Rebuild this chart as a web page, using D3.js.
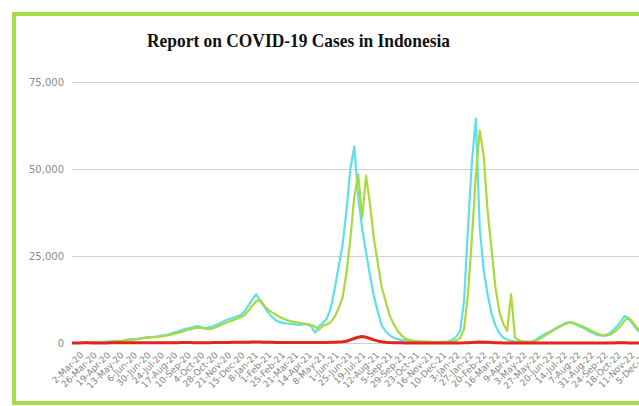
<!DOCTYPE html>
<html>
<head>
<meta charset="utf-8">
<script src="https://cdn.jsdelivr.net/npm/d3@7"></script>
<style>
  body { margin: 0; background: #fff; }
  svg { display: block; }
</style>
</head>
<body>
<svg id="chart" width="639" height="406"></svg>
<script>
// weekly readings starting 2-Mar-20
const startDate = "2-Mar-20";

const newCases = [
  0, 10, 50, 120, 150, 250, 320, 330, 350, 400,
  480, 600, 650, 700, 900, 1100, 1050, 1300, 1500, 1600,
  1700, 1800, 1900, 2200, 2300, 2600, 3000, 3300, 3700, 4100,
  4300, 4600, 4900, 4500, 4200, 4500, 4800, 5300, 5800, 6400,
  6800, 7200, 7600, 8000, 9000, 10800, 12500, 14000, 12000, 10500,
  8800, 7500, 6500, 6000, 5700, 5600, 5500, 5300, 5200, 5400,
  5300, 4800, 3000, 4800, 5800, 7000, 10000, 15500, 22000, 28000,
  38000, 50000, 56500, 42000, 33000, 26000, 19500, 13500, 9000, 5000,
  3400, 2200, 1600, 1100, 900, 700, 600, 500, 450, 400,
  350, 300, 250, 250, 300, 350, 500, 900, 1800, 3500,
  12000, 33000, 52000, 64500, 33000, 21000, 14000, 8500, 5000, 2800,
  1600, 1000, 600, 400, 300, 300, 320, 400, 700, 1500,
  2200, 2800, 3300, 4000, 4700, 5200, 5800, 6000, 5500, 5000,
  4600, 4000, 3300, 2800, 2300, 2100, 2200, 2700, 3600, 4800,
  6200, 7800, 7000, 5500, 4000, 3000, 2200, 1500
];

const recovered = [
  0, 0, 5, 20, 50, 100, 150, 200, 250, 300,
  380, 450, 550, 600, 750, 900, 1000, 1100, 1300, 1500,
  1600, 1700, 1800, 1900, 2100, 2300, 2600, 2900, 3200, 3600,
  3900, 4200, 4400, 4300, 4100, 4000, 4200, 4700, 5200, 5700,
  6100, 6500, 7000, 7400, 8000, 9300, 10800, 12000, 12400, 10800,
  9600, 8800, 8200, 7500, 7000, 6500, 6200, 6000, 5800, 5600,
  5400, 5200, 4700, 3800, 5000, 5300, 6000, 7500, 10000, 13000,
  20000, 30000, 42000, 48500, 36000, 48000, 40000, 30000, 23000, 16000,
  12000, 8000, 5500, 3500, 2200, 1300, 900, 700, 550, 450,
  400, 350, 300, 250, 250, 250, 300, 400, 700, 1500,
  4000, 14000, 30000, 48000, 61000, 54000, 38000, 27000, 16000, 9000,
  5500, 3500, 14000, 1500, 800, 500, 350, 350, 500, 1000,
  1700, 2400, 3000, 3700, 4400, 5000, 5500, 5900, 5800, 5300,
  4900, 4400, 3800, 3200, 2700, 2300, 2100, 2300, 2900, 3800,
  5000, 6500, 7200, 6000, 4500, 3300, 2400, 1700
];

const deaths = [
  0, 5, 20, 40, 50, 30, 25, 20, 25, 30,
  40, 40, 45, 50, 50, 55, 60, 65, 70, 70,
  70, 75, 75, 80, 80, 85, 90, 100, 110, 115,
  110, 105, 100, 95, 95, 100, 110, 120, 130, 150,
  170, 180, 200, 220, 230, 250, 270, 280, 260, 230,
  200, 180, 150, 140, 130, 120, 110, 115, 120, 125,
  140, 150, 140, 150, 150, 160, 180, 220, 280, 350,
  500, 900, 1300, 1650, 1850, 1650, 1300, 900, 600, 350,
  200, 130, 90, 60, 40, 30, 25, 20, 15, 12,
  10, 10, 8, 8, 8, 8, 10, 15, 20, 30,
  50, 100, 160, 220, 260, 250, 200, 150, 90, 50,
  30, 25, 20, 15, 12, 10, 8, 8, 8, 10,
  12, 15, 18, 20, 22, 22, 20, 18, 16, 15,
  14, 12, 10, 10, 10, 12, 15, 20, 30, 40,
  45, 40, 35, 30, 25, 20, 18, 15
];

const tickLabels = [
  "2-Mar-20", "26-Mar-20", "19-Apr-20", "13-May-20", "6-Jun-20", "30-Jun-20",
  "24-Jul-20", "17-Aug-20", "10-Sep-20", "4-Oct-20", "28-Oct-20", "21-Nov-20",
  "15-Dec-20", "8-Jan-21", "1-Feb-21", "25-Feb-21", "21-Mar-21", "14-Apr-21",
  "8-May-21", "1-Jun-21", "25-Jun-21", "19-Jul-21", "12-Aug-21", "5-Sep-21",
  "29-Sep-21", "23-Oct-21", "16-Nov-21", "10-Dec-21", "3-Jan-22", "27-Jan-22",
  "20-Feb-22", "16-Mar-22", "9-Apr-22", "3-May-22", "27-May-22", "20-Jun-22",
  "14-Jul-22", "7-Aug-22", "31-Aug-22", "24-Sep-22", "18-Oct-22", "11-Nov-22",
  "5-Dec-22"
];

const yTicks = [0, 25000, 50000, 75000];

const parse = d3.timeParse("%d-%b-%y");
const t0 = parse(startDate);
const dates = newCases.map((_, i) => d3.timeDay.offset(t0, i * 7));

const svg = d3.select("#chart");

// green frame (right side runs off the picture)
svg.append("rect")
  .attr("x", 14).attr("y", 14)
  .attr("width", 700).attr("height", 389)
  .attr("fill", "#fff")
  .attr("stroke", "#a6dc45")
  .attr("stroke-width", 4);

const x = d3.scaleTime()
  .domain([t0, parse("29-Dec-22")])
  .range([72, 650]);

const y = d3.scaleLinear()
  .domain([0, 75000])
  .range([343, 82]);

// gridlines + y labels
const yAxis = svg.append("g")
  .attr("transform", "translate(72,0)")
  .call(d3.axisLeft(y)
    .tickValues(yTicks)
    .tickFormat(d3.format(","))
    .tickSize(-640)
    .tickPadding(8));
yAxis.select(".domain").remove();
yAxis.selectAll("line").attr("stroke", "#cfcfcf");
yAxis.selectAll("text")
  .attr("fill", "#8a8a8a")
  .style("font-family", "DejaVu Sans")
  .style("font-size", "10px");

// x labels
const xAxis = svg.append("g")
  .attr("transform", "translate(0,343)")
  .call(d3.axisBottom(x)
    .tickValues(tickLabels.map(parse))
    .tickFormat((d, i) => tickLabels[i])
    .tickSize(0));
xAxis.select(".domain").remove();
xAxis.selectAll("text")
  .attr("fill", "#858585")
  .style("font-family", "DejaVu Sans")
  .style("font-size", "9px")
  .attr("text-anchor", "end")
  .attr("transform", "translate(5,6) rotate(-45)")
  .attr("dx", "0")
  .attr("dy", "0.7em");

const line = d3.line()
  .x((d, i) => x(dates[i]))
  .y(d => y(d));

svg.append("path")
  .datum(newCases)
  .attr("fill", "none")
  .attr("stroke", "#5fdfea")
  .attr("stroke-width", 2.2)
  .attr("stroke-linejoin", "round")
  .attr("d", line);

svg.append("path")
  .datum(recovered)
  .attr("fill", "none")
  .attr("stroke", "#a9d93b")
  .attr("stroke-width", 2.2)
  .attr("stroke-linejoin", "round")
  .attr("d", line);

svg.append("path")
  .datum(deaths)
  .attr("fill", "none")
  .attr("stroke", "#e1261c")
  .attr("stroke-width", 3)
  .attr("stroke-linejoin", "round")
  .attr("d", line);

svg.append("text")
  .attr("x", 147)
  .attr("y", 47)
  .attr("textLength", 303)
  .attr("lengthAdjust", "spacingAndGlyphs")
  .style("font-family", "Liberation Serif")
  .style("font-weight", "bold")
  .style("font-size", "19px")
  .attr("fill", "#111")
  .text("Report on COVID-19 Cases in Indonesia");
</script>
</body>
</html>
